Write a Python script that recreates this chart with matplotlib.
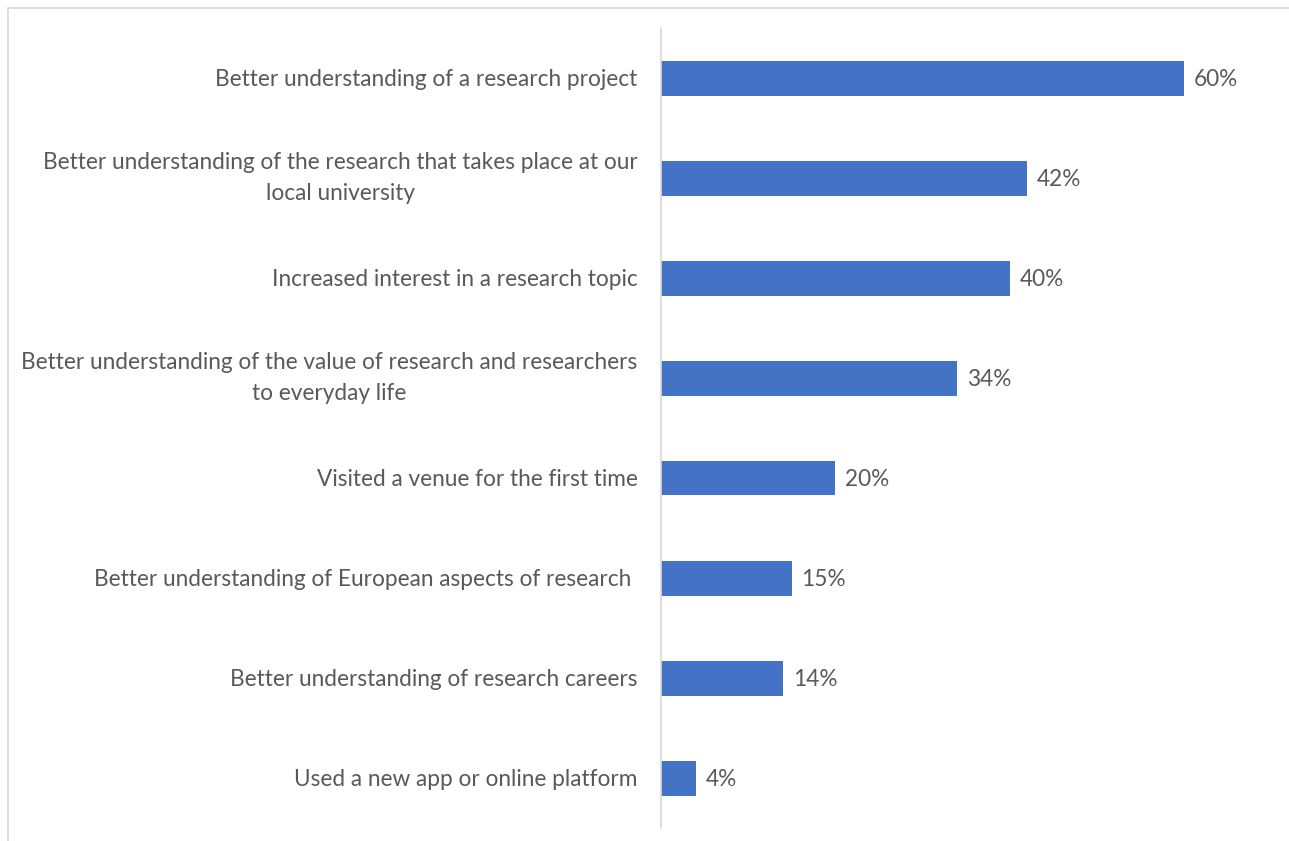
import matplotlib.pyplot as plt
from matplotlib.patches import Rectangle

labels = [
    'Better understanding of a research project',
    'Better understanding of the research that takes place at our\nlocal university',
    'Increased interest in a research topic',
    'Better understanding of the value of research and researchers\nto everyday life',
    'Visited a venue for the first time',
    'Better understanding of European aspects of research ',
    'Better understanding of research careers',
    'Used a new app or online platform',
]
values = [60, 42, 40, 34, 20, 15, 14, 4]

bar_color = '#4472C4'
text_color = '#595959'
plt.rcParams['font.family'] = ['Lato', 'DejaVu Sans']

fig = plt.figure(figsize=(12.89, 8.41), dpi=100)
# chart border (top and left visible)
fig.patches.append(Rectangle((8/1289, -0.05), 1.2, 1 - 8/841 + 0.05, transform=fig.transFigure,
                             fill=False, edgecolor='#d9d9d9', linewidth=1.2))
ax = fig.add_axes([661/1289, 13/841, 610/1289, 800/841])

y = list(range(len(labels)))
ax.barh(y, values, height=0.35, color=bar_color)
ax.set_ylim(len(labels) - 0.5, -0.5)
ax.set_xlim(0, 70)
ax.set_yticks(y)
ticklabels = ax.set_yticklabels(labels, fontsize=16.3, color=text_color, linespacing=1.6,
                                multialignment='center')
for t in ticklabels:
    if '\n' in t.get_text():
        t.set_va('center')
ax.tick_params(axis='y', length=0, pad=17)
ax.set_xticks([])
for s in ['top', 'right', 'bottom']:
    ax.spines[s].set_visible(False)
ax.spines['left'].set_color('#d9d9d9')
ax.spines['left'].set_linewidth(1.2)

for yi, v in zip(y, values):
    ax.annotate(f'{v}%', (v, yi), xytext=(7, 0), textcoords='offset points',
                va='center_baseline', ha='left', fontsize=16.3, color=text_color)

fig.savefig('out.png', dpi=100)
